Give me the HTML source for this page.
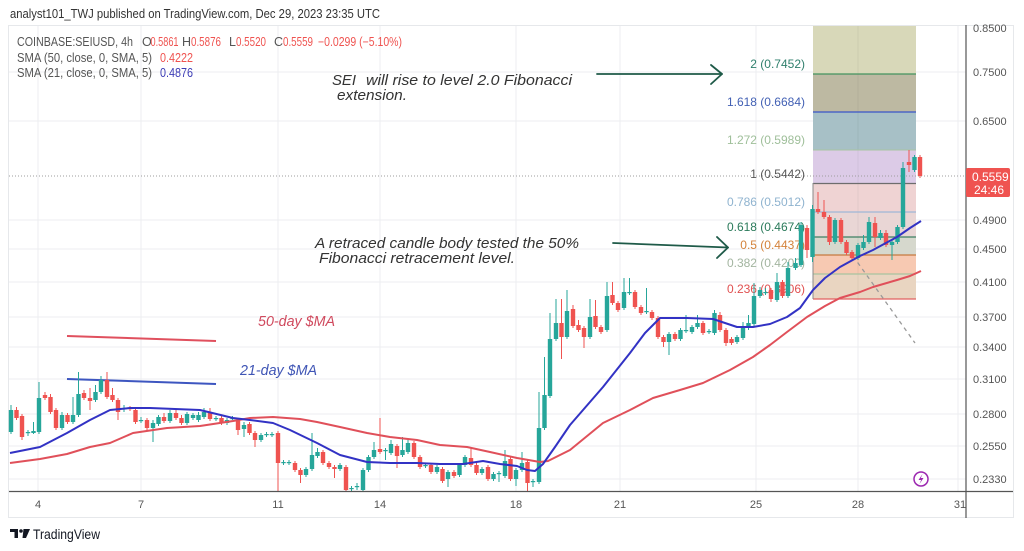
<!DOCTYPE html>
<html><head><meta charset="utf-8"><style>
html,body{margin:0;padding:0;background:#fff;}
svg{display:block;}
text{font-family:"Liberation Sans",sans-serif;}
.ax{font-size:11px;fill:#555;}
.an{font-style:italic;font-size:14.5px;fill:#333;}
.fl{font-size:12px;text-anchor:end;}
</style></head><body>
<svg width="1024" height="551" viewBox="0 0 1024 551" xmlns="http://www.w3.org/2000/svg">
<rect width="1024" height="551" fill="#fff"/>
<text x="10" y="18" font-size="13" fill="#333" textLength="370" lengthAdjust="spacingAndGlyphs">analyst101_TWJ published on TradingView.com, Dec 29, 2023 23:35 UTC</text>
<rect x="8.5" y="25.5" width="1005" height="492" fill="none" stroke="#e6e8eb" stroke-width="1"/>
<g stroke="#eceef1" stroke-width="1">
<line x1="9" x2="966" y1="72" y2="72"/><line x1="9" x2="966" y1="121" y2="121"/><line x1="9" x2="966" y1="220" y2="220"/><line x1="9" x2="966" y1="249" y2="249"/><line x1="9" x2="966" y1="282" y2="282"/><line x1="9" x2="966" y1="317" y2="317"/><line x1="9" x2="966" y1="347" y2="347"/><line x1="9" x2="966" y1="379" y2="379"/><line x1="9" x2="966" y1="414" y2="414"/><line x1="9" x2="966" y1="446" y2="446"/><line x1="9" x2="966" y1="479" y2="479"/>
<line x1="38" x2="38" y1="26" y2="491"/><line x1="141" x2="141" y1="26" y2="491"/><line x1="278" x2="278" y1="26" y2="491"/><line x1="380" x2="380" y1="26" y2="491"/><line x1="516" x2="516" y1="26" y2="491"/><line x1="620" x2="620" y1="26" y2="491"/><line x1="756" x2="756" y1="26" y2="491"/><line x1="858" x2="858" y1="26" y2="491"/><line x1="958" x2="958" y1="26" y2="491"/>
</g>
<!-- fib box -->
<g>
<rect x="813" y="26" width="103" height="48" fill="#d8d8b9"/>
<rect x="813" y="74" width="103" height="38" fill="#bdb9a2"/>
<rect x="813" y="112" width="103" height="38" fill="#a7c0c6"/>
<rect x="813" y="150" width="103" height="33.5" fill="#dccbe7"/>
<rect x="813" y="183.5" width="103" height="28.5" fill="#efd3d3"/>
<rect x="813" y="212" width="103" height="25" fill="#e9d6d5"/>
<rect x="813" y="237" width="103" height="18" fill="#d6d8cd"/>
<rect x="813" y="255" width="103" height="19" fill="#f7c9b2"/>
<rect x="813" y="274" width="103" height="25" fill="#e9d5c1"/>
<line x1="858" x2="858" y1="26" y2="299" stroke="#000" stroke-opacity="0.05"/>
<line x1="813" x2="916" y1="74" y2="74" stroke="#43935f" stroke-width="1.3"/>
<line x1="813" x2="916" y1="112" y2="112" stroke="#3a55c8" stroke-width="1.3"/>
<line x1="813" x2="916" y1="150" y2="150" stroke="#a9c4a3" stroke-width="1"/>
<line x1="813" x2="916" y1="183.5" y2="183.5" stroke="#6d6d6d" stroke-width="1.3"/>
<line x1="813" x2="916" y1="212" y2="212" stroke="#9fb7d6" stroke-width="1.3"/>
<line x1="813" x2="916" y1="237" y2="237" stroke="#3e7f63" stroke-width="1.3"/>
<line x1="813" x2="916" y1="255" y2="255" stroke="#c57a3f" stroke-width="1.3"/>
<line x1="813" x2="916" y1="274" y2="274" stroke="#a8c3a0" stroke-width="1.3"/>
<line x1="813" x2="916" y1="299" y2="299" stroke="#e26060" stroke-width="1.3"/>
<line x1="813" x2="813" y1="183" y2="299" stroke="#8a8a8a" stroke-width="1"/>
<line x1="853" y1="256" x2="915" y2="343" stroke="#9a9a9a" stroke-width="1.3" stroke-dasharray="4,4"/>
</g>
<text class="fl" x="805" y="68" fill="#2f7f6c">2 (0.7452)</text>
<text class="fl" x="805" y="106" fill="#4260b4">1.618 (0.6684)</text>
<text class="fl" x="805" y="144" fill="#9fbf9a">1.272 (0.5989)</text>
<text class="fl" x="805" y="178" fill="#555">1 (0.5442)</text>
<text class="fl" x="805" y="206" fill="#8fb3cf">0.786 (0.5012)</text>
<text class="fl" x="805" y="231" fill="#2a7a5a">0.618 (0.4674)</text>
<text class="fl" x="805" y="249" fill="#d4823a">0.5 (0.4437)</text>
<text class="fl" x="805" y="267" fill="#a3b5a0">0.382 (0.4200)</text>
<text class="fl" x="805" y="293" fill="#e05050">0.236 (0.3906)</text>
<!-- last price line -->
<line x1="9" x2="966" y1="176" y2="176" stroke="#9e9e9e" stroke-width="1" stroke-dasharray="1,2"/>
<!-- annotations -->
<text class="an" x="332" y="85" textLength="24" lengthAdjust="spacingAndGlyphs">SEI</text>
<text class="an" x="366" y="85" textLength="206" lengthAdjust="spacingAndGlyphs">will rise to level 2.0 Fibonacci</text>
<text class="an" x="337" y="100" textLength="70" lengthAdjust="spacingAndGlyphs">extension.</text>
<text class="an" x="315" y="248" textLength="264" lengthAdjust="spacingAndGlyphs">A retraced candle body tested the 50%</text>
<text class="an" x="319" y="263" textLength="196" lengthAdjust="spacingAndGlyphs">Fibonacci retracement level.</text>
<g stroke="#1e5a48" stroke-width="1.8" fill="none" stroke-linecap="round" stroke-linejoin="round">
<line x1="597" y1="74" x2="722" y2="74"/><polyline points="711,65 722,74 711,84"/>
<line x1="613" y1="243" x2="728" y2="247.5"/><polyline points="717,237 728,247.5 717,258"/>
</g>
<line x1="67" y1="336" x2="216" y2="341" stroke="#e0505e" stroke-width="2"/>
<line x1="67" y1="379" x2="216" y2="384" stroke="#3d56c0" stroke-width="2"/>
<text class="an" x="258" y="326" style="fill:#d04a5e" textLength="77" lengthAdjust="spacingAndGlyphs">50-day $MA</text>
<text class="an" x="240" y="375" style="fill:#3f55b5" textLength="77" lengthAdjust="spacingAndGlyphs">21-day $MA</text>
<g id="candles"></g>
<polyline fill="none" stroke="#e0505a" stroke-width="2" stroke-linejoin="round" points="10,463 40,459 67,454 90,447 110,443 133,433 167,428 200,426 233,421 250,418 273,417 300,419 317,422 340,427 367,433 390,437 417,440 440,445 467,447 490,452 517,458 540,462 548,461 570,450 603,423 630,410 653,398 680,390 703,383 730,370 753,357 770,345 787,332 807,317 825,306 840,298 860,292 873,287 897,280 910,276 921,271"/>
<polyline fill="none" stroke="#3232c4" stroke-width="2" stroke-linejoin="round" points="10,453 40,447 67,433 90,420 110,410 130,408 150,408 175,409 200,410 233,418 250,420 273,423 290,430 317,443 340,455 367,462 390,463 417,463 440,464 463,464 483,461 500,464 517,466 527,470 535,471 543,464 555,447 570,425 603,387 630,353 645,333 660,318 687,318 713,319 737,327 753,327 770,324 787,317 800,308 813,290 825,278 840,267 860,256 873,250 897,237 910,228 921,221"/>
<!-- axes -->
<line x1="966" x2="966" y1="25" y2="518" stroke="#555" stroke-width="1.2"/>
<line x1="9" x2="1013" y1="491.5" y2="491.5" stroke="#555" stroke-width="1.2"/>
<g class="ax">
<text x="973" y="32">0.8500</text><text x="973" y="76">0.7500</text><text x="973" y="125">0.6500</text><text x="973" y="224">0.4900</text><text x="973" y="253">0.4500</text><text x="973" y="286">0.4100</text><text x="973" y="321">0.3700</text><text x="973" y="351">0.3400</text><text x="973" y="383">0.3100</text><text x="973" y="418">0.2800</text><text x="973" y="450">0.2550</text><text x="973" y="483">0.2330</text>
</g>
<rect x="966" y="168" width="44" height="29" rx="2" fill="#ef5350"/>
<text x="972" y="181" font-size="12" fill="#fff">0.5559</text>
<text x="974" y="194" font-size="12" fill="#fff">24:46</text>
<g class="ax" text-anchor="middle">
<text x="38" y="508">4</text><text x="141" y="508">7</text><text x="278" y="508">11</text><text x="380" y="508">14</text><text x="516" y="508">18</text><text x="620" y="508">21</text><text x="756" y="508">25</text><text x="858" y="508">28</text><text x="960" y="508">31</text>
</g>
<circle cx="921" cy="479" r="7" fill="#fff" stroke="#9c27b0" stroke-width="1.5"/>
<path d="M922.5,474 L918.5,480 L921.2,480 L919.5,484 L923.5,478 L920.8,478 Z" fill="#9c27b0"/>
<!-- legend -->
<g font-size="12.5">
<text x="17" y="46" fill="#555" textLength="116" lengthAdjust="spacingAndGlyphs">COINBASE:SEIUSD, 4h</text>
<text x="142" y="46" fill="#555">O</text><text x="150.5" y="46" fill="#ef5350" textLength="28" lengthAdjust="spacingAndGlyphs">0.5861</text>
<text x="182" y="46" fill="#555">H</text><text x="191" y="46" fill="#ef5350" textLength="30" lengthAdjust="spacingAndGlyphs">0.5876</text>
<text x="229" y="46" fill="#555">L</text><text x="236" y="46" fill="#ef5350" textLength="30" lengthAdjust="spacingAndGlyphs">0.5520</text>
<text x="274" y="46" fill="#555">C</text><text x="283" y="46" fill="#ef5350" textLength="30" lengthAdjust="spacingAndGlyphs">0.5559</text>
<text x="318" y="46" fill="#ef5350" textLength="84" lengthAdjust="spacingAndGlyphs">−0.0299 (−5.10%)</text>
<text x="17" y="62" fill="#555" textLength="135" lengthAdjust="spacingAndGlyphs">SMA (50, close, 0, SMA, 5)</text>
<text x="160" y="62" fill="#ef5350" textLength="33" lengthAdjust="spacingAndGlyphs">0.4222</text>
<text x="17" y="77" fill="#555" textLength="135" lengthAdjust="spacingAndGlyphs">SMA (21, close, 0, SMA, 5)</text>
<text x="160" y="77" fill="#3b3bb5" textLength="33" lengthAdjust="spacingAndGlyphs">0.4876</text>
</g>
<!-- footer -->
<path d="M10,529 H18 V538 H14.5 V532 H10 Z" fill="#131722"/>
<circle cx="21" cy="531" r="1.8" fill="#131722"/>
<path d="M23.5,529 H30 L26,538 H22.5 Z" fill="#131722"/>
<text x="33" y="539" font-size="14" fill="#131722" textLength="67" lengthAdjust="spacingAndGlyphs">TradingView</text>
</svg>
<script>
var D=[[11,432,410,405,434],[16.5,410,418,407,420],[22,416,437,414,440],[28,433,432,430,436],[33.5,433,431,422,434],[39,432,398,382,434],[45,395,398,392,400],[50.5,397,412,394,414],[56,410,428,408,430],[62,428,415,412,430],[67.5,415,422,413,424],[73,422,415,397,424],[78.5,415,394,372,417],[84,393,398,390,400],[90,398,401,388,410],[95.5,400,392,385,402],[101,392,380,376,394],[107,380,397,372,399],[112.5,395,400,388,402],[118,400,412,398,420],[124,409,408,405,412],[130,408,409,406,411],[135.5,410,422,408,424],[141,421,420,417,423],[147,420,428,418,430],[153,428,423,420,442],[158.5,424,417,415,426],[164,417,421,413,423],[170,421,413,410,423],[176,413,418,410,420],[181.5,418,423,415,425],[187,423,414,412,425],[193,418,415,413,420],[198.5,420,415,412,422],[204,417,412,408,419],[210,413,419,408,421],[216,419,418,416,421],[221.5,418,423,416,425],[227,423,420,418,425],[232.5,419,418,416,420],[238,420,430,418,435],[244,429,425,422,437],[249.5,424,433,422,435],[255,433,440,431,447],[261,440,435,433,442],[266.5,435,434,432,437],[272,435,434,432,437],[278,433,463,431,491],[283.5,463,462,460,465],[289,463,462,460,465],[295,463,470,461,472],[300.5,470,475,468,483],[306,475,469,467,477],[312,469,455,433,471],[317.5,456,452,448,458],[323,452,463,450,465],[329,463,467,461,469],[334.5,467,469,465,478],[340,469,465,463,471],[346,467,490,465,492],[351.5,489,488,486,491],[357,487,486,483,490],[363,490,470,468,491],[368.5,470,457,455,472],[374,457,450,442,459],[380,449,452,418,454],[385.5,451,450,448,460],[391,453,444,440,455],[397,446,456,444,468],[402.5,455,450,437,457],[408,452,443,440,454],[414,443,457,441,459],[420,457,467,455,469],[425.5,466,465,463,468],[431,465,472,463,474],[437,472,467,465,474],[442.5,469,481,467,483],[448,479,472,470,487],[454,472,476,470,478],[459.5,475,465,463,477],[465,465,457,455,467],[471,458,465,447,467],[476.5,465,473,463,475],[482,473,469,467,475],[488,467,479,465,481],[493.5,479,474,472,481],[499,474,473,471,482],[505,476,461,450,478],[510.5,459,479,457,481],[516,479,470,468,486],[522,470,463,452,472],[527.5,462,483,460,491],[533,482,481,479,487],[539,482,428,392,484],[544.5,428,395,357,430],[550,396,339,313,398],[556,339,323,299,341],[561.5,323,337,299,359],[567,337,311,290,339],[573,309,326,305,328],[578.5,325,330,320,332],[584,328,337,326,348],[590,337,317,299,339],[595.5,316,327,300,329],[601,327,332,325,334],[607,330,296,282,332],[612.5,295,303,282,305],[618,303,310,301,312],[624,308,292,278,310],[629.5,293,292,278,295],[635,292,307,290,309],[641,307,313,305,315],[646.5,312,311,288,314],[652,312,318,310,320],[658,318,337,316,339],[663.5,337,342,335,347],[669,342,334,332,355],[675,334,339,332,341],[680.5,339,330,328,341],[686,331,330,315,333],[692,332,327,325,334],[697.5,327,323,315,329],[703,323,333,321,335],[709,332,331,329,334],[714.5,333,313,310,335],[720,315,330,312,332],[726,330,343,328,346],[731.5,339,343,337,345],[737,342,337,335,344],[743,338,327,322,340],[748.5,328,323,315,330],[754,324,296,283,326],[760,296,290,287,298],[765.5,293,292,288,295],[771,290,299,288,302],[777,300,282,273,302],[782.5,282,296,280,298],[788,296,268,262,298],[795.5,268,263,258,270],[801,265,225,222,267],[807,228,250,225,258],[812.5,257,209,205,262],[818,209,212,192,214],[824,212,217,200,219],[829.5,217,242,215,245],[835,242,220,218,244],[841,220,242,218,244],[846.5,242,253,240,255],[852,252,258,250,260],[858,258,245,243,260],[863.5,248,242,235,250],[869,242,222,217,244],[875,223,237,217,247],[880.5,238,233,230,240],[886,233,245,230,247],[892,245,242,240,260],[897.5,242,227,225,244],[903,227,168,162,229],[909,162,165,150,172],[914.5,170,157,155,172],[920,157,176,155,178]];
var s='';
for(var i=0;i<D.length;i++){var d=D[i],x=d[0],o=d[1],c=d[2],h=d[3],l=d[4];var col=c<o?'#26a69a':'#ef5350';var t=Math.min(o,c),hh=Math.max(1.2,Math.abs(o-c));
s+='<line x1="'+x+'" x2="'+x+'" y1="'+h+'" y2="'+l+'" stroke="'+col+'" stroke-width="1"/>';
s+='<rect x="'+(x-2.2)+'" y="'+t+'" width="4.4" height="'+hh+'" fill="'+col+'"/>';}
document.getElementById('candles').innerHTML=s;
</script>
</body></html>
